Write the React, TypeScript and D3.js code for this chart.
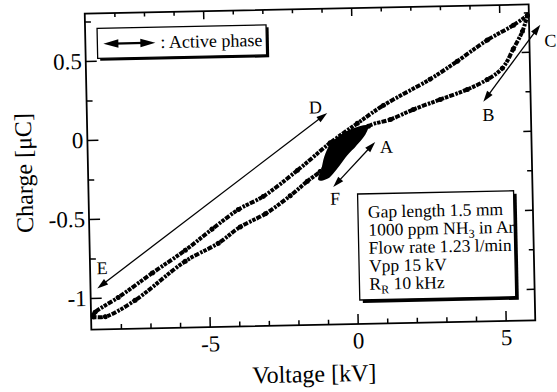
import { useEffect, useRef } from 'react';
import * as d3 from 'd3';

// Q-V (Lissajous) figure
// upper branch, E -> D -> C
const upperVoltage = [-8.93, -8.86, -8.07, -6.9, -5.77, -4.85, -3.95, -3.1, -1.93, -0.8, 0.13, 1.02, 2.62, 3.55, 4.58, 5.47, 5.95];
const upperCharge = [-1.11, -1.09, -1.0, -0.85, -0.71, -0.58, -0.46, -0.38, -0.22, -0.05, 0.07, 0.18, 0.34, 0.45, 0.58, 0.67, 0.73];

// lower branch, E -> F -> A -> B -> C
const lowerVoltage = [-8.93, -8.52, -7.5, -5.78, -4.65, -3.9, -3.04, -2.19, -1.6, -1.16, -0.29, 0.5, 1.25, 2.03, 2.95, 3.87, 4.55, 5.07, 5.45, 5.77, 5.95];
const lowerCharge = [-1.12, -1.12, -1.02, -0.78, -0.67, -0.57, -0.49, -0.38, -0.29, -0.23, -0.08, 0.05, 0.09, 0.15, 0.21, 0.27, 0.33, 0.4, 0.52, 0.63, 0.73];

// outline of the dense cluster of samples between F and A
const clusterVoltage = [-1.2, -1.09, -0.98, -0.77, -0.46, -0.05, 0.46, 0.36, 0.04, -0.27, -0.61, -0.92];
const clusterCharge = [-0.28, -0.22, -0.14, -0.06, -0.01, 0.03, 0.05, 0.0, -0.07, -0.13, -0.21, -0.27];

// axes
const xDomain = [-9, 6];
const yDomain = [-1.2, 0.8];
const xMajorTicks = [-5, 0, 5];
const xTickLabels = ['-5', '0', '5'];
const xMinorTicks = [-8, -7, -6, -4, -3, -2, -1, 1, 2, 3, 4];
const yMajorTicks = [-1, -0.5, 0, 0.5];
const yTickLabels = ['-1', '-0.5', '0', '0.5'];
const yMinorTicks = [-0.75, -0.25, 0.25, 0.75];

// "active phase" arrows (voltage, charge of both ends)
const arrowStartV = [-8.77, -0.73, 4.4];
const arrowStartQ = [-0.94, -0.33, 0.19];
const arrowEndV = [-0.88, 0.72, 6.38];
const arrowEndQ = [0.14, -0.05, 0.67];

// point labels
const pointLabels = ['D', 'E', 'A', 'F', 'B', 'C'];
const labelVoltage = [-1.28, -8.59, 1.09, -0.67, 4.56, 6.71];
const labelCharge = [0.18, -0.81, -0.08, -0.4, 0.11, 0.57];

// conditions box, [text, subscript, text]
const conditionLines = [
  ['Gap length 1.5 mm', '', ''],
  ['1000 ppm NH', '3', ' in Ar'],
  ['Flow rate 1.23 l/min', '', ''],
  ['Vpp 15 kV', '', ''],
  ['R', 'R', ' 10 kHz'],
];

const FONT = 'Liberation Serif, Times New Roman, serif';

const ChargeVoltageLoop = () => {
  const svgRef = useRef(null);

  useEffect(() => {
    if (!svgRef.current) return;
    const root = d3.select(svgRef.current);
    root.selectAll('*').remove();

    const W = 557;
    const H = 392;
    const margin = { top: 9, right: 25, bottom: 67, left: 88 };
    const width = W - margin.left - margin.right;
    const height = H - margin.top - margin.bottom;

    // the scan is tilted by about a degree
    const svg = root
      .append('g')
      .attr('transform', 'rotate(-1.2 310 167)')
      .append('g')
      .attr('transform', `translate(${margin.left},${margin.top})`);

    const x = d3.scaleLinear().domain(xDomain).range([0, width]);
    const y = d3.scaleLinear().domain(yDomain).range([height, 0]);

    // frame
    svg.append('rect')
      .attr('width', width)
      .attr('height', height)
      .attr('fill', 'none')
      .attr('stroke', '#000')
      .attr('stroke-width', 1.8);

    const styleAxis = (g, fontSize) => {
      g.select('.domain').remove();
      g.attr('font-family', FONT).attr('font-size', fontSize);
      g.selectAll('line').attr('stroke', '#000').attr('stroke-width', 1.5);
      g.selectAll('text')
        .attr('fill', '#000')
        .attr('font-family', FONT)
        .attr('font-size', fontSize);
    };

    // bottom axis, ticks pointing inward
    svg.append('g')
      .attr('transform', `translate(0,${height})`)
      .call(d3.axisBottom(x).tickValues(xMajorTicks).tickSize(-10).tickPadding(8)
        .tickFormat((d, i) => xTickLabels[i]))
      .call(g => styleAxis(g, 23));
    svg.append('g')
      .attr('transform', `translate(0,${height})`)
      .call(d3.axisBottom(x).tickValues(xMinorTicks).tickSize(-5).tickFormat(''))
      .call(g => styleAxis(g, 10));

    // top axis
    svg.append('g')
      .call(d3.axisTop(x).tickValues(xMajorTicks).tickSize(-8).tickFormat(''))
      .call(g => styleAxis(g, 10));
    svg.append('g')
      .call(d3.axisTop(x).tickValues(xMinorTicks).tickSize(-4).tickFormat(''))
      .call(g => styleAxis(g, 10));

    // left axis
    svg.append('g')
      .call(d3.axisLeft(y).tickValues(yMajorTicks).tickSize(-11).tickPadding(4)
        .tickFormat((d, i) => yTickLabels[i]))
      .call(g => styleAxis(g, 23));
    svg.append('g')
      .call(d3.axisLeft(y).tickValues(yMinorTicks).tickSize(-6).tickFormat(''))
      .call(g => styleAxis(g, 10));

    // right axis
    svg.append('g')
      .attr('transform', `translate(${width},0)`)
      .call(d3.axisRight(y).tickValues(yMajorTicks).tickSize(-8).tickFormat(''))
      .call(g => styleAxis(g, 10));
    svg.append('g')
      .attr('transform', `translate(${width},0)`)
      .call(d3.axisRight(y).tickValues(yMinorTicks).tickSize(-5).tickFormat(''))
      .call(g => styleAxis(g, 10));

    // axis titles
    svg.append('text')
      .attr('x', width / 2)
      .attr('y', height + 57)
      .attr('text-anchor', 'middle')
      .attr('font-family', FONT)
      .attr('font-size', 24)
      .text('Voltage [kV]');

    svg.append('text')
      .attr('transform', 'rotate(-90)')
      .attr('x', -height / 2)
      .attr('y', -56)
      .attr('text-anchor', 'middle')
      .attr('font-family', FONT)
      .attr('font-size', 24)
      .text('Charge [μC]');

    // loop branches
    const branches = [
      upperVoltage.map((v, i) => [v, upperCharge[i]]),
      lowerVoltage.map((v, i) => [v, lowerCharge[i]]),
    ];
    const line = d3.line()
      .x(d => x(d[0]))
      .y(d => y(d[1]))
      .curve(d3.curveCatmullRom);

    branches.forEach(pts => {
      svg.append('path')
        .attr('d', line(pts))
        .attr('fill', 'none')
        .attr('stroke', '#000')
        .attr('stroke-width', 4)
        .attr('stroke-dasharray', '3.5 1.1 5 1.4 2.5 1');
      svg.selectAll(null)
        .data(pts)
        .enter()
        .append('circle')
        .attr('cx', d => x(d[0]))
        .attr('cy', d => y(d[1]))
        .attr('r', 2.5)
        .attr('fill', '#000');
    });

    // dense cluster drawn as a filled outline
    const clusterShape = d3.line()
      .x(d => x(d[0]))
      .y(d => y(d[1]))
      .curve(d3.curveCatmullRomClosed);
    svg.append('path')
      .attr('d', clusterShape(clusterVoltage.map((v, i) => [v, clusterCharge[i]])))
      .attr('fill', '#000')
      .attr('stroke', '#000')
      .attr('stroke-width', 2)
      .attr('stroke-linejoin', 'round');

    // double headed arrow
    const drawArrow = (g, x1, y1, x2, y2, headLen, headHalf, lw) => {
      const a = Math.atan2(y2 - y1, x2 - x1);
      const ux = Math.cos(a);
      const uy = Math.sin(a);
      g.append('line')
        .attr('x1', x1 + ux * headLen * 0.7)
        .attr('y1', y1 + uy * headLen * 0.7)
        .attr('x2', x2 - ux * headLen * 0.7)
        .attr('y2', y2 - uy * headLen * 0.7)
        .attr('stroke', '#000')
        .attr('stroke-width', lw);
      [[x2, y2, 1], [x1, y1, -1]].forEach(([tx, ty, dir]) => {
        const bx = tx - dir * ux * headLen;
        const by = ty - dir * uy * headLen;
        g.append('polygon')
          .attr('points', [
            [tx, ty],
            [bx - uy * headHalf, by + ux * headHalf],
            [bx + uy * headHalf, by - ux * headHalf],
          ].map(p => p.join(',')).join(' '))
          .attr('fill', '#000');
      });
    };

    arrowStartV.forEach((v, i) => {
      drawArrow(svg, x(v), y(arrowStartQ[i]), x(arrowEndV[i]), y(arrowEndQ[i]), 11, 3.4, 1.3);
    });

    svg.selectAll('.point-label')
      .data(pointLabels)
      .enter()
      .append('text')
      .attr('class', 'point-label')
      .attr('x', (d, i) => x(labelVoltage[i]))
      .attr('y', (d, i) => y(labelCharge[i]))
      .attr('dy', '0.36em')
      .attr('text-anchor', 'middle')
      .attr('font-family', FONT)
      .attr('font-size', 18)
      .text(d => d);

    // legend box
    const legend = svg.append('g').attr('transform', 'translate(12,15)');
    legend.append('rect')
      .attr('x', 2.5).attr('y', 2.5)
      .attr('width', 169).attr('height', 30)
      .attr('fill', '#000');
    legend.append('rect')
      .attr('width', 169).attr('height', 30)
      .attr('fill', '#fff')
      .attr('stroke', '#000')
      .attr('stroke-width', 1.3);
    drawArrow(legend, 6, 15.5, 58, 15.5, 15, 4.3, 2.2);
    legend.append('text')
      .attr('x', 63)
      .attr('y', 21)
      .attr('font-family', FONT)
      .attr('font-size', 18)
      .text(': Active phase');

    // conditions box
    const info = svg.append('g').attr('transform', 'translate(269,186)');
    info.append('rect')
      .attr('x', 3).attr('y', 3)
      .attr('width', 156).attr('height', 106)
      .attr('fill', '#000');
    info.append('rect')
      .attr('width', 156).attr('height', 106)
      .attr('fill', '#fff')
      .attr('stroke', '#000')
      .attr('stroke-width', 1.3);
    conditionLines.forEach((parts, i) => {
      const t = info.append('text')
        .attr('x', 10)
        .attr('y', 24 + i * 18)
        .attr('font-family', FONT)
        .attr('font-size', 17.5);
      t.append('tspan').text(parts[0]);
      if (parts[1]) {
        t.append('tspan').attr('dy', 4).attr('font-size', 12).text(parts[1]);
        t.append('tspan').attr('dy', -4).text(parts[2]);
      }
    });
  }, []);

  return (
    <div style={{ position: 'absolute', left: 0, top: 0, background: '#fff' }}>
      <svg
        ref={svgRef}
        width={557}
        height={392}
        fontFamily={FONT}
        style={{ display: 'block' }}
      />
    </div>
  );
};

export default ChargeVoltageLoop;
